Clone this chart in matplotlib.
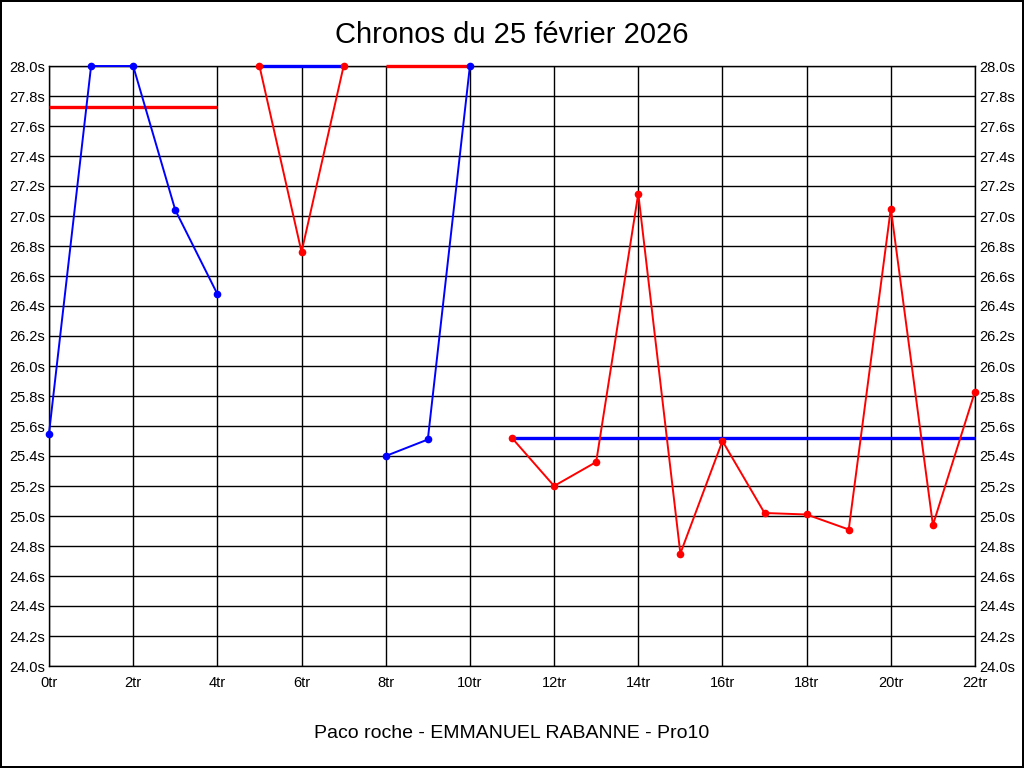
import matplotlib
matplotlib.use("Agg")
import matplotlib.pyplot as plt
from matplotlib.ticker import FuncFormatter, MultipleLocator

plt.rcParams['font.family'] = ['Liberation Sans', 'DejaVu Sans']

# lap times, one list per group of laps
tours_1 = [0, 1, 2, 3, 4]
temps_1 = [25.55, 28.0, 28.0, 27.04, 26.48]
tours_2 = [5, 6, 7]
temps_2 = [28.0, 26.76, 28.0]
tours_3 = [8, 9, 10]
temps_3 = [25.40, 25.51, 28.0]
tours_4 = [11, 12, 13, 14, 15, 16, 17, 18, 19, 20, 21, 22]
temps_4 = [25.52, 25.20, 25.36, 27.15, 24.75, 25.50, 25.02, 25.01, 24.91, 27.05, 24.94, 25.83]

# average lines per group
moy_1 = 27.73
moy_2 = 28.0
moy_3 = 28.0
moy_4 = 25.52

groupes = [
    (tours_1, temps_1, moy_1, 'blue', 'red'),
    (tours_2, temps_2, moy_2, 'red', 'blue'),
    (tours_3, temps_3, moy_3, 'blue', 'red'),
    (tours_4, temps_4, moy_4, 'red', 'blue'),
]

fig = plt.figure(figsize=(10.24, 7.68), dpi=100)
fig.patch.set_edgecolor('black')
fig.patch.set_linewidth(1.5)
ax = fig.add_axes([49 / 1024, 1 - 666 / 768, 926 / 1024, 600 / 768])

for tours, temps, moy, coul, coul_moy in groupes:
    ax.plot([tours[0], tours[-1]], [moy, moy], color=coul_moy, lw=2.4, zorder=3,
            clip_on=False, solid_capstyle='butt')
for tours, temps, moy, coul, coul_moy in groupes:
    ax.plot(tours, temps, color=coul, lw=1.4, marker='o', ms=4.5, zorder=4, clip_on=False)

ax.set_xlim(0, 22)
ax.set_ylim(24.0, 28.0)
ax.xaxis.set_major_locator(MultipleLocator(2))
ax.yaxis.set_major_locator(MultipleLocator(0.2))
ax.xaxis.set_major_formatter(FuncFormatter(lambda v, p: f"{v:.0f}tr"))
ax.yaxis.set_major_formatter(FuncFormatter(lambda v, p: f"{v:.1f}s"))
ax.grid(True, color='black', lw=1)
ax.set_axisbelow(True)
for s in ax.spines.values():
    s.set_color('black')
    s.set_linewidth(1)
ax.tick_params(axis='both', length=0, labelsize=10.5, colors='black')
ax.tick_params(axis='x', pad=7)
ax.tick_params(axis='y', pad=3, labelright=True, right=False)

fig.text(0.5, 1 - 35 / 768, "Chronos du 25 février 2026", ha='center', va='center', fontsize=21)
fig.text(0.5, 1 - 733 / 768, "Paco roche - EMMANUEL RABANNE - Pro10", ha='center', va='center',
         fontsize=14)

fig.savefig("out.png", dpi=100, edgecolor=fig.get_edgecolor())
